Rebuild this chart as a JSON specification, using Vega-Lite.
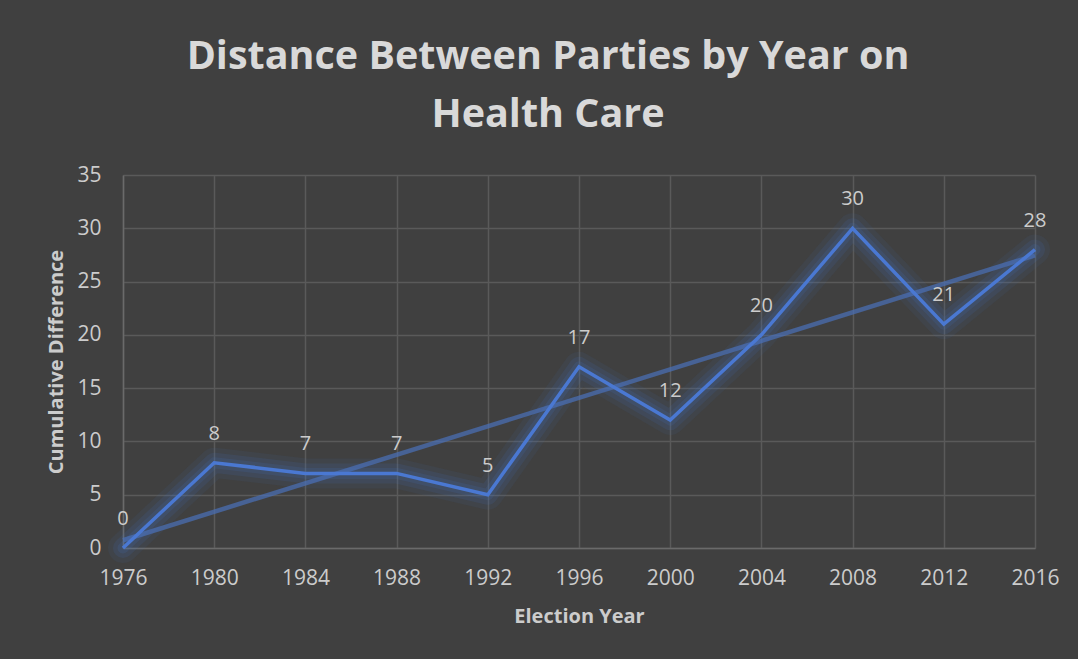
{
  "$schema": "https://vega.github.io/schema/vega-lite/v6.json",
  "autosize": {"type": "none"},
  "width": 912,
  "height": 373,
  "padding": {"left": 123, "top": 175, "right": 43, "bottom": 111},
  "background": "#404040",
  "title": {
    "text": ["Distance Between Parties by Year on", "Health Care"],
    "font": "Open Sans",
    "fontSize": 39.5,
    "fontWeight": "bold",
    "color": "#d9d9d9",
    "anchor": "middle",
    "dx": -31,
    "lineHeight": 58,
    "offset": 29
  },
  "data": {
    "values": [
      {"year": 1976, "diff": 0},
      {"year": 1980, "diff": 8},
      {"year": 1984, "diff": 7},
      {"year": 1988, "diff": 7},
      {"year": 1992, "diff": 5},
      {"year": 1996, "diff": 17},
      {"year": 2000, "diff": 12},
      {"year": 2004, "diff": 20},
      {"year": 2008, "diff": 30},
      {"year": 2012, "diff": 21},
      {"year": 2016, "diff": 28}
    ]
  },
  "config": {
    "view": {"stroke": null},
    "axis": {
      "labelFont": "Open Sans",
      "labelFontSize": 21,
      "labelColor": "#cccccc",
      "labelFlush": false,
      "labelOverlap": false,
      "titleFont": "Open Sans",
      "titleFontSize": 20,
      "titleFontWeight": "bold",
      "titleColor": "#cccccc",
      "gridColor": "#5a5a5a",
      "gridWidth": 1.5,
      "domainColor": "#6a6a6a",
      "domainWidth": 1.5,
      "ticks": false
    }
  },
  "encoding": {
    "x": {
      "field": "year",
      "type": "quantitative",
      "scale": {"domain": [1976, 2016], "nice": false, "zero": false},
      "axis": {
        "title": "Election Year",
        "values": [1976, 1980, 1984, 1988, 1992, 1996, 2000, 2004, 2008, 2012, 2016],
        "format": "d",
        "labelPadding": 19,
        "titlePadding": 18,
        "grid": true,
        "domain": true
      }
    },
    "y": {
      "field": "diff",
      "type": "quantitative",
      "scale": {"domain": [0, 35], "nice": false},
      "axis": {
        "title": "Cumulative Difference",
        "values": [0, 5, 10, 15, 20, 25, 30, 35],
        "labelPadding": 22,
        "titlePadding": 10,
        "grid": true,
        "domain": true
      }
    }
  },
  "layer": [
    {
      "mark": {"type": "line", "stroke": "#4472c4", "strokeWidth": 30, "opacity": 0.08, "strokeJoin": "round", "strokeCap": "round"}
    },
    {
      "mark": {"type": "line", "stroke": "#4472c4", "strokeWidth": 20, "opacity": 0.12, "strokeJoin": "round", "strokeCap": "round"}
    },
    {
      "mark": {"type": "line", "stroke": "#4472c4", "strokeWidth": 11, "opacity": 0.15, "strokeJoin": "round", "strokeCap": "round"}
    },
    {
      "transform": [{"regression": "diff", "on": "year", "extent": [1976, 2016]}],
      "mark": {"type": "line", "stroke": "#4a6fb5", "strokeWidth": 4.5, "opacity": 0.72}
    },
    {
      "mark": {"type": "line", "stroke": "#4a78d2", "strokeWidth": 3.5, "strokeJoin": "miter"}
    },
    {
      "mark": {"type": "text", "font": "Open Sans", "fontSize": 20, "color": "#cccccc", "baseline": "middle", "dy": -29},
      "encoding": {"text": {"field": "diff", "type": "quantitative"}}
    }
  ]
}
